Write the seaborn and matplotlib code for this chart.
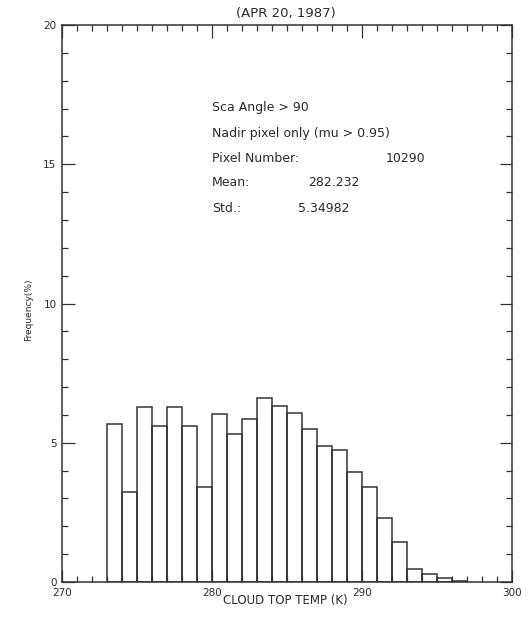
import matplotlib
matplotlib.use("Agg")
import matplotlib.pyplot as plt
from matplotlib.ticker import MultipleLocator
import numpy as np
import pandas as pd
import seaborn as sns

# Histogram of cloud top temperature, 1 K bins starting at 273 K
bin_left = list(range(273, 297))
frequency = [5.67, 3.22, 6.30, 5.60, 6.30, 5.59, 3.42, 6.02, 5.32, 5.86,
             6.60, 6.33, 6.08, 5.50, 4.89, 4.74, 3.95, 3.42, 2.29, 1.43,
             0.46, 0.28, 0.13, 0.04]
x_ticks = [270, 280, 290, 300]
y_ticks = [0, 5, 10, 15, 20]

title = "(APR 20, 1987)"
info_lines = ["Sca Angle > 90", "Nadir pixel only (mu > 0.95)",
              "Pixel Number:", "Mean:", "Std.:"]
info_values = ["", "", "10290", "282.232", "5.34982"]

sns.set_theme(style="white")
plt.rcParams["font.family"] = ["DejaVu Sans"]

df = pd.DataFrame({"temp": np.array(bin_left) + 0.5, "freq": frequency})
edges = list(range(273, 298))

W, H = 528, 617
fig = plt.figure(figsize=(W / 100, H / 100), dpi=100)
ax = fig.add_axes([62 / W, 1 - 582 / H, 450 / W, 557 / H])

sns.histplot(data=df, x="temp", weights="freq", bins=edges, fill=False,
             color="#333333", linewidth=1.1, ax=ax)

ax.set_xlim(270, 300)
ax.set_ylim(0, 20)
ax.set_xticks(x_ticks)
ax.set_yticks(y_ticks)
ax.xaxis.set_minor_locator(MultipleLocator(1))
ax.yaxis.set_minor_locator(MultipleLocator(1))
ax.tick_params(which="both", direction="in", top=True, right=True,
               bottom=True, left=True, colors="#333333", labelsize=7.5,
               labelcolor="#2a2a2a", width=0.9)
ax.tick_params(which="major", length=9, pad=4)
ax.tick_params(which="minor", length=4)
for sp in ax.spines.values():
    sp.set_color("#333333")
    sp.set_linewidth(1.1)

ax.set_xlabel("CLOUD TOP TEMP (K)", fontsize=8.5, color="#2a2a2a")
ax.xaxis.set_label_coords((285 - 62) / 450, (582 - 594) / 557)
ax.set_ylabel("Frequency(%)", fontsize=6.5, color="#2a2a2a")
ax.yaxis.set_label_coords((33 - 62) / 450, (582 - 310) / 557)

fig.text(286 / W, 1 - 13 / H, title, fontsize=9.5, color="#2a2a2a",
         ha="center", va="center")

y0 = 108
for i, lab in enumerate(info_lines):
    yp = 1 - (y0 + 25 * i) / H
    fig.text(212 / W, yp, lab, fontsize=9, color="#2a2a2a", va="center")
vx = {2: 386, 3: 308, 4: 298}
for i, xpix in vx.items():
    yp = 1 - (y0 + 25 * i) / H
    fig.text(xpix / W, yp, info_values[i], fontsize=9, color="#2a2a2a",
             va="center")

fig.savefig("out.png", dpi=100)
